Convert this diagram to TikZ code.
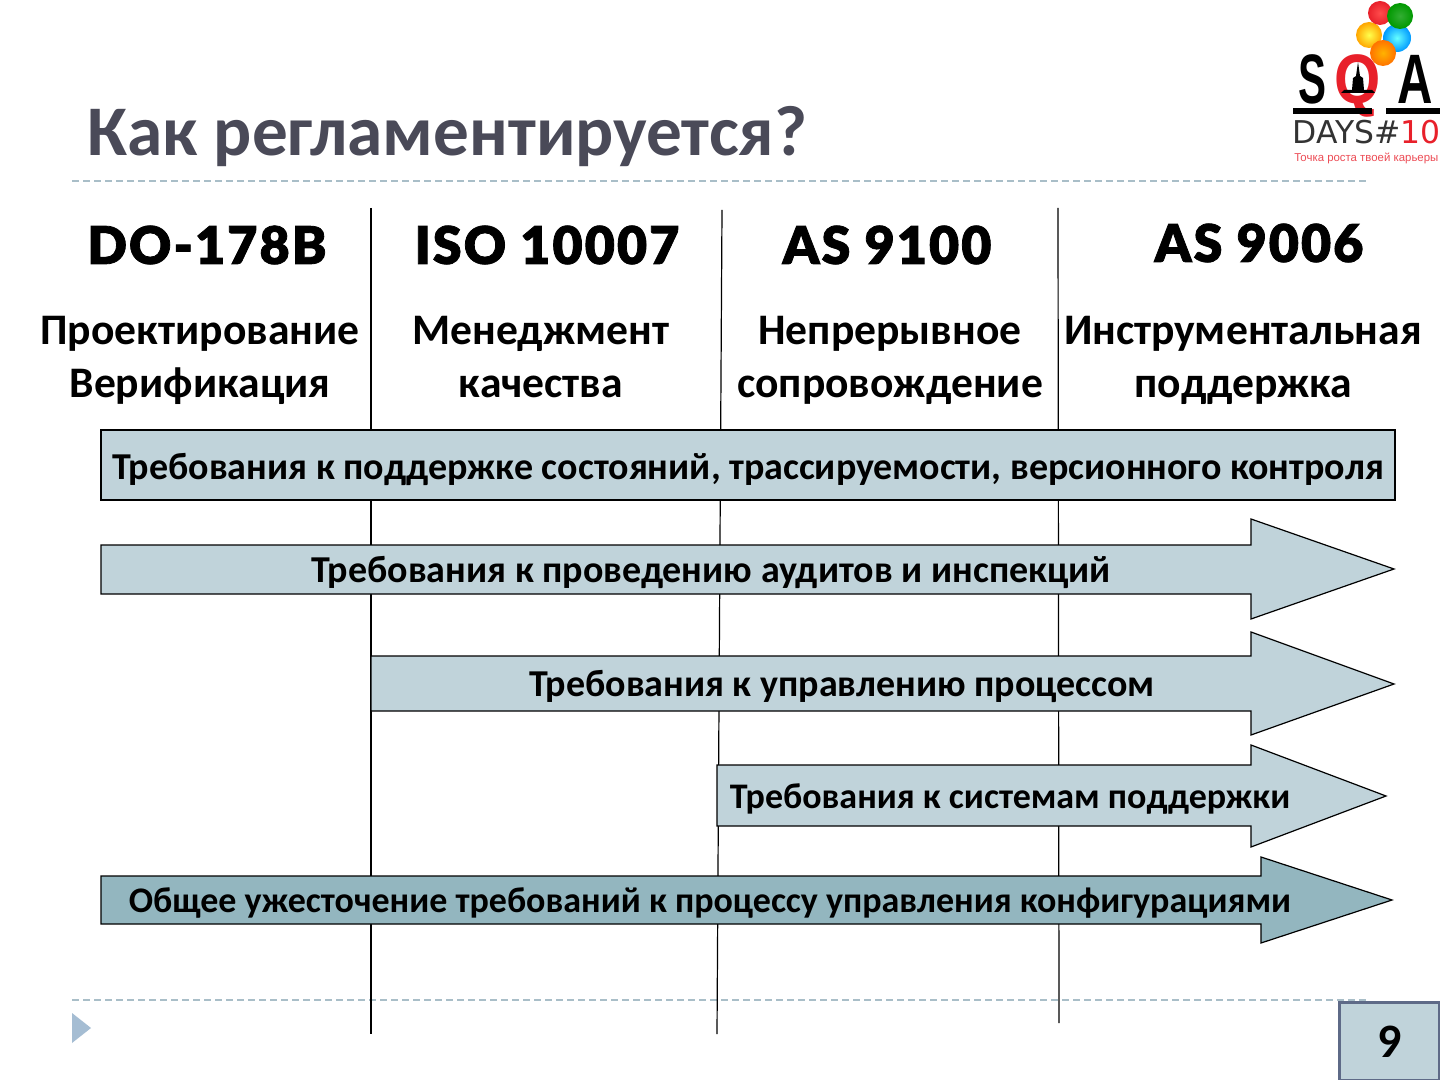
\documentclass[tikz,border=0pt]{standalone}
\usepackage{fontspec}
\setmainfont{Carlito}
\newfontfamily\headfont[LetterSpace=4,FakeBold=1.5]{Lato Black}
\newfontfamily\logofont{Liberation Sans}
\newfontfamily\logodaysfont{DejaVu Sans}
\usepackage{xcolor}
\definecolor{barblue}{HTML}{C0D3DA}
\definecolor{bardark}{HTML}{93B6BF}
\definecolor{titlegray}{HTML}{4A4A58}
\definecolor{rulegray}{HTML}{A9BEC8}
\definecolor{markblue}{HTML}{A5BDD3}
\definecolor{pageframe}{HTML}{5E6A87}
\definecolor{logored}{HTML}{E8202A}
\tikzset{
    x=0.5pt, y=-0.5pt,
    bar/.style = {draw=black, line width=0.6pt, fill=barblue},
    bar-label/.style = {font=\fontsize{19}{22}\selectfont\bfseries, inner sep=0pt},
    bar-label-small/.style = {bar-label, font=\fontsize{18}{22}\selectfont\bfseries},
    std-title/.style = {font=\headfont\fontsize{26}{30}\selectfont, inner sep=0pt},
    std-topic/.style = {font=\fontsize{21.8}{26.5}\selectfont\bfseries, align=center, inner sep=0pt},
    divider/.style = {draw=black, line width=0.6pt},
    page-rule/.style = {draw=rulegray, line width=0.6pt, dash pattern=on 3.5pt off 2pt},
    balloon/.style = {circle, minimum size=#1, inner sep=0pt},
    logo-letter/.style = {anchor=base, inner sep=0pt, transform shape, font=\logofont\bfseries\fontsize{35}{35}\selectfont},
}

\begin{document}
\begin{tikzpicture}
\useasboundingbox (0,0) rectangle (1440,1080);
\fill[white] (0,0) rectangle (1440,1080);

% slide frame
\node[anchor=west, inner sep=0pt, text=titlegray, font=\fontsize{35.6}{40}\selectfont\bfseries] (title) at (87,137) {Как регламентируется?};
\coordinate (ruletopa) at (72,181);
\coordinate (ruletopb) at (1368,181);
\coordinate (rulebota) at (72,1000);
\coordinate (rulebotb) at (1368,1000);
\draw[page-rule] (ruletopa) -- (ruletopb);
\draw[page-rule] (rulebota) -- (rulebotb);
\fill[markblue] (72,1013) -- (91,1028) -- (72,1043) -- cycle;
\node[draw=pageframe, line width=1.3pt, fill=barblue, minimum width=50pt, minimum height=39pt, anchor=north west, inner sep=0pt, font=\fontsize{24}{24}\selectfont\bfseries] (page) at (1338,1001) {9};

% dividers
\coordinate (diva) at (371,208);
\coordinate (divaend) at (371,1034);
\coordinate (divb) at (722,210);
\coordinate (divbend) at (717,1034);
\coordinate (divc) at (1058,208);
\coordinate (divcend) at (1059,1023);
\foreach \a/\b in {diva/divaend, divb/divbend, divc/divcend}
    \draw[divider] (\a) -- (\b);

% standards
\node[std-title] (do) at (207,245) {DO-178B};
\node[std-title] (iso) at (547,245) {ISO 10007};
\node[std-title] (asa) at (887,245) {AS 9100};
\node[std-title] (asb) at (1259,243) {AS 9006};
\node[std-topic] (dotopic) at (200,360) {Проектирование\\Верификация};
\node[std-topic] (isotopic) at (541,357) {Менеджмент\\качества};
\node[std-topic] (asatopic) at (890,360) {Непрерывное\\сопровождение};
\node[std-topic] (asbtopic) at (1243,360) {Инструментальная\\поддержка};

% requirements
\draw[bar] (101,430) rectangle (1395,500);
\node[bar-label] (state) at (748,469) {Требования к поддержке состояний, трассируемости, версионного контроля};

\draw[bar] (101,545) -- (1251,545) -- (1251,519) -- (1394,569) -- (1251,619) -- (1251,594) -- (101,594) -- cycle;
\node[bar-label] (audit) at (711,572) {Требования к проведению аудитов и инспекций};

\draw[bar] (371,656) -- (1251,656) -- (1251,632) -- (1394,684) -- (1251,735) -- (1251,711) -- (371,711) -- cycle;
\node[bar-label] (process) at (842,686) {Требования к управлению процессом};

\draw[bar] (717,765) -- (1251,765) -- (1251,745) -- (1386,796) -- (1251,847) -- (1251,826) -- (717,826) -- cycle;
\node[bar-label-small] (support) at (1010,799) {Требования к системам поддержки};

\draw[bar, fill=bardark] (101,876) -- (1261,876) -- (1261,857) -- (1392,900) -- (1261,943) -- (1261,924) -- (101,924) -- cycle;
\node[bar-label-small] (config) at (710,903) {Общее ужесточение требований к процессу управления конфигурациями};

% logo
\node[logo-letter, xscale=.6] (logos) at (1312,104) {S};
\node[logo-letter, xscale=.85, text=logored] (logoq) at (1358,104) {Q};
\node[logo-letter, xscale=.7] (logoa) at (1415,104) {A};
\fill (1358,62) -- (1360,76) -- (1363,78) -- (1364,90) -- (1372,90) -- (1375,93) -- (1341,93) -- (1344,90) -- (1352,90) -- (1353,78) -- (1356,76) -- cycle;
\node[balloon=14pt, inner color=cyan!60, outer color=cyan!60!blue] (balloob) at (1397,38) {};
\node[balloon=13pt, inner color=yellow!70!white, outer color=orange!70!yellow] (ballooa) at (1369,35) {};
\node[balloon=12pt, inner color=red!70, outer color=logored] (ballooc) at (1380,13) {};
\node[balloon=13pt, inner color=green!60!black!80, outer color=green!60!black] (ballood) at (1400,16) {};
\node[balloon=13pt, inner color=orange!60!yellow, outer color=orange!90!red] (balloe) at (1383,53) {};
\fill (1293,108) rectangle (1372,114);
\fill (1386,108) rectangle (1440,114);
\node[anchor=west, inner sep=0pt, text=black!80, font=\logodaysfont\fontsize{15.7}{15.7}\selectfont] (logodays) at (1292,132) {DAYS\#\textcolor{logored}{10}};
\node[anchor=west, inner sep=0pt, text=logored!80, font=\logofont\fontsize{5.7}{6}\selectfont] (logotag) at (1294,158) {Точка роста твоей карьеры};
\end{tikzpicture}
\end{document}
